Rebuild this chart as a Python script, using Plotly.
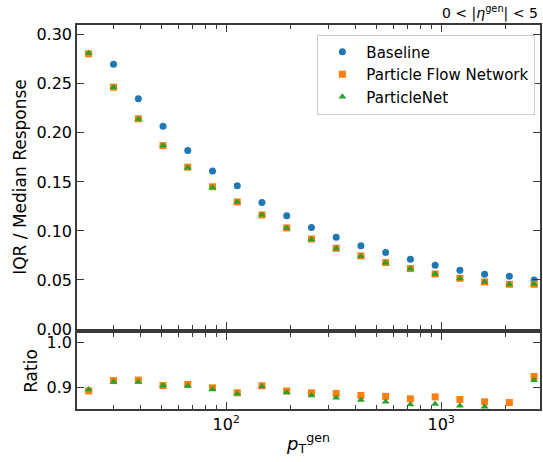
import plotly.graph_objects as go

# Bin centres in pT gen
pt = [22.9, 29.9, 39.0, 50.8, 66.2, 86.3, 112.5, 146.6, 191.1, 249.1,
      324.7, 423.2, 551.6, 719.0, 937.2, 1221.6, 1592.3, 2075.5, 2705.4]

# IQR / median response
baseline = [0.314, 0.270, 0.2347, 0.2068, 0.182, 0.161, 0.146, 0.129, 0.1156, 0.1034,
            0.0936, 0.085, 0.0779, 0.0711, 0.065, 0.0599, 0.0558, 0.0538, 0.050]
pfn = [0.2806, 0.2466, 0.2143, 0.187, 0.165, 0.145, 0.1296, 0.1163, 0.1031, 0.0918,
       0.0823, 0.0745, 0.0677, 0.0616, 0.0561, 0.0517, 0.048, 0.0456, 0.0456]
pnet = [0.2814, 0.2465, 0.2142, 0.1871, 0.1645, 0.1444, 0.1295, 0.1165, 0.1029, 0.0913,
        0.0822, 0.0742, 0.0675, 0.0614, 0.0561, 0.0515, 0.0479, 0.0454, 0.0458]

# Ratio to baseline
ratio_pfn = [0.893, 0.916, 0.917, 0.905, 0.9075, 0.900, 0.889, 0.9045, 0.893, 0.889,
             0.8875, 0.883, 0.881, 0.8756, 0.880, 0.874, 0.869, 0.8675, 0.925]
ratio_pnet = [0.896, 0.913, 0.913, 0.905, 0.904, 0.897, 0.887, 0.903, 0.8897, 0.883,
              0.878, 0.8727, 0.869, 0.863, 0.864, 0.860, 0.858, 0.845, 0.917]

blue, orange, green = "#1f77b4", "#ff7f0e", "#2ca02c"
font = "DejaVu Sans"

fig = go.Figure()

fig.add_trace(go.Scatter(x=pt, y=baseline, mode="markers", name="Baseline", legendgroup="a",
                         marker=dict(color=blue, symbol="circle", size=7)))
fig.add_trace(go.Scatter(x=pt, y=pfn, mode="markers", name="Particle Flow Network", legendgroup="b",
                         marker=dict(color=orange, symbol="square", size=7)))
fig.add_trace(go.Scatter(x=pt, y=pnet, mode="markers", name="ParticleNet", legendgroup="c",
                         marker=dict(color=green, symbol="triangle-up", size=7)))

fig.add_trace(go.Scatter(x=pt, y=ratio_pfn, mode="markers", showlegend=False,
                         marker=dict(color=orange, symbol="square", size=7),
                         xaxis="x2", yaxis="y2"))
fig.add_trace(go.Scatter(x=pt, y=ratio_pnet, mode="markers", showlegend=False,
                         marker=dict(color=green, symbol="triangle-up", size=7),
                         xaxis="x2", yaxis="y2"))

minor_vals = [20, 30, 40, 50, 60, 70, 80, 90, 200, 300, 400, 500, 600, 700, 800, 900,
              2000, 3000]
axis_common = dict(showline=True, linecolor="#3a3a3a", linewidth=1.5, mirror="allticks",
                   ticks="inside", tickcolor="#3a3a3a", showgrid=False, zeroline=False)
xcommon = dict(type="log", range=[1.3056, 3.4597], tickmode="array",
               tickvals=[100, 1000], ticktext=["10<sup>2</sup>", "10<sup>3</sup>"],
               ticklen=7, tickwidth=1.3,
               minor=dict(tickmode="array", tickvals=minor_vals, ticks="inside",
                          ticklen=4, tickcolor="#3a3a3a", tickwidth=1),
               **axis_common)

fig.update_layout(
    width=543, height=462,
    margin=dict(l=77, r=1, t=25, b=53),
    paper_bgcolor="white", plot_bgcolor="white",
    font=dict(family=font, size=16, color="black"),
    xaxis=dict(domain=[0, 1], anchor="y", showticklabels=False, **xcommon),
    yaxis=dict(domain=[0.2083, 1], anchor="x", range=[0, 0.31], tickvals=[0, 0.05, 0.1, 0.15, 0.2, 0.25, 0.3],
               tickformat=".2f", ticklen=7, tickwidth=1.3, automargin=True,
               title=dict(text="IQR / Median Response", font=dict(size=17), standoff=5),
               **axis_common),
    xaxis2=dict(domain=[0, 1], anchor="y2", matches="x",
                title=dict(text="<i>p</i><sub>T</sub><sup>gen</sup>", font=dict(size=18), standoff=4),
                **xcommon),
    yaxis2=dict(domain=[0, 0.1979], anchor="x2", range=[0.853, 1.0215], tickvals=[0.9, 1.0],
                tickformat=".1f", ticklen=7, tickwidth=1.3, automargin=True,
                title=dict(text="Ratio", font=dict(size=17), standoff=5),
                **axis_common),
    legend=dict(x=0.99, xanchor="right", y=0.975, yanchor="top",
                bordercolor="#cccccc", borderwidth=1, bgcolor="white",
                font=dict(size=15), itemwidth=38, tracegroupgap=0),
    annotations=[dict(text="0 < |<i>η</i><sup>gen</sup>| < 5", xref="paper", yref="paper",
                      x=1.0, y=1.0, xanchor="right", yanchor="bottom", showarrow=False,
                      font=dict(size=14), yshift=1)],
)

fig.write_html("out.html", config={"displayModeBar": False},
               post_script="document.body.style.margin='0';document.body.style.overflow='hidden';")
